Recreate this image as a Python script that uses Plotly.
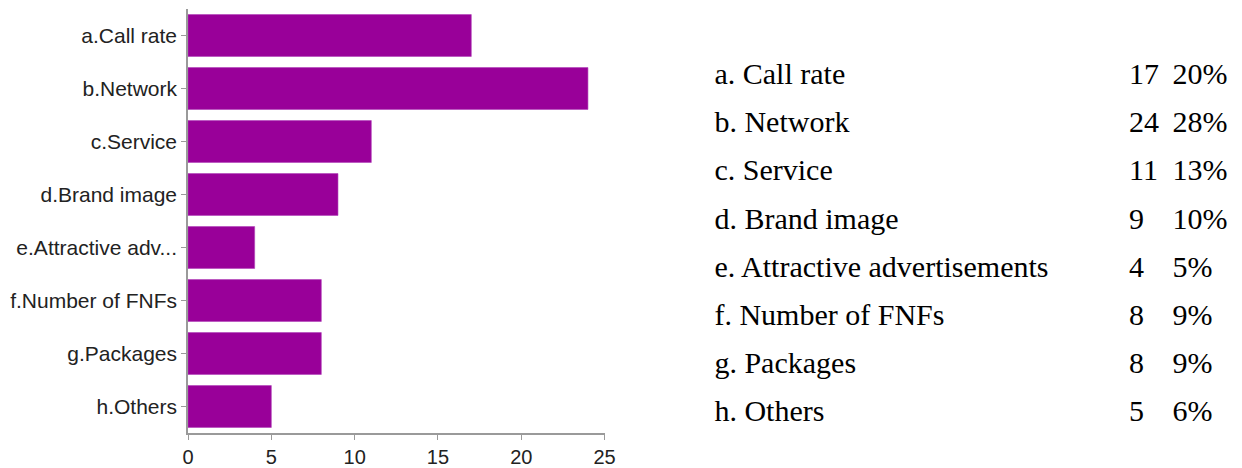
import plotly.graph_objects as go

# Survey responses: reasons for choosing a mobile operator
categories = ["a.Call rate", "b.Network", "c.Service", "d.Brand image",
              "e.Attractive adv...", "f.Number of FNFs", "g.Packages", "h.Others"]
table_labels = ["a. Call rate", "b. Network", "c. Service", "d. Brand image",
                "e. Attractive advertisements", "f. Number of FNFs", "g. Packages", "h. Others"]
counts = [17, 24, 11, 9, 4, 8, 8, 5]
percents = ["20%", "28%", "13%", "10%", "5%", "9%", "9%", "6%"]
x_ticks = [0, 5, 10, 15, 20, 25]

W, H = 1242, 468
ML, MR, MT, MB = 188, 0, 9, 31
PW = W - ML - MR
PLOT_RIGHT = 609

fig = go.Figure(go.Bar(
    x=counts,
    y=categories,
    orientation="h",
    marker=dict(color="#990099", line=dict(color="#b040b8", width=0.6)),
    hoverinfo="x+y",
))

# Summary table beside the chart, laid out on an overlay axis in pixel units
COL_LABEL, COL_COUNT, COL_PCT = 720, 1139, 1183
ROW_TOP, ROW_PITCH = 77.5, 48.5
rows_y = [ROW_TOP + i * ROW_PITCH for i in range(len(table_labels))]
serif = dict(family="Liberation Serif, Times New Roman, serif", size=30, color="#000000")
for col_x, texts in ((COL_LABEL, table_labels),
                     (COL_COUNT, [str(c) for c in counts]),
                     (COL_PCT, percents)):
    fig.add_trace(go.Scatter(
        x=[col_x] * len(texts), y=rows_y, text=texts,
        mode="text", textposition="middle right", textfont=serif,
        xaxis="x2", yaxis="y2", hoverinfo="skip",
    ))

fig.update_layout(
    width=W, height=H,
    margin=dict(l=ML, r=MR, t=MT, b=MB),
    paper_bgcolor="white", plot_bgcolor="rgba(0,0,0,0)",
    bargap=0.21,
    showlegend=False,
    font=dict(family="Liberation Sans, Arial, sans-serif", size=21, color="#222222"),
    xaxis=dict(
        domain=[0, (PLOT_RIGHT - ML) / PW],
        range=[0, 25],
        tickvals=x_ticks,
        showgrid=False, zeroline=False,
        showline=True, linecolor="#9a9a9a", linewidth=1.5,
        ticks="outside", ticklen=5, tickcolor="#9a9a9a",
        tickfont=dict(size=20, color="#222222"),
    ),
    yaxis=dict(
        categoryorder="array", categoryarray=categories,
        autorange="reversed",
        showgrid=False, zeroline=False,
        showline=True, linecolor="#9a9a9a", linewidth=1.5,
        ticks="outside", ticklen=5, tickcolor="#9a9a9a",
        tickfont=dict(size=21, color="#222222"),
    ),
    xaxis2=dict(domain=[0, 1], range=[ML, W - MR], anchor="y2",
                visible=False, fixedrange=True),
    yaxis2=dict(domain=[0, 1], range=[H - MB, MT], anchor="x2",
                visible=False, fixedrange=True),
)

fig.write_html("out.html")
